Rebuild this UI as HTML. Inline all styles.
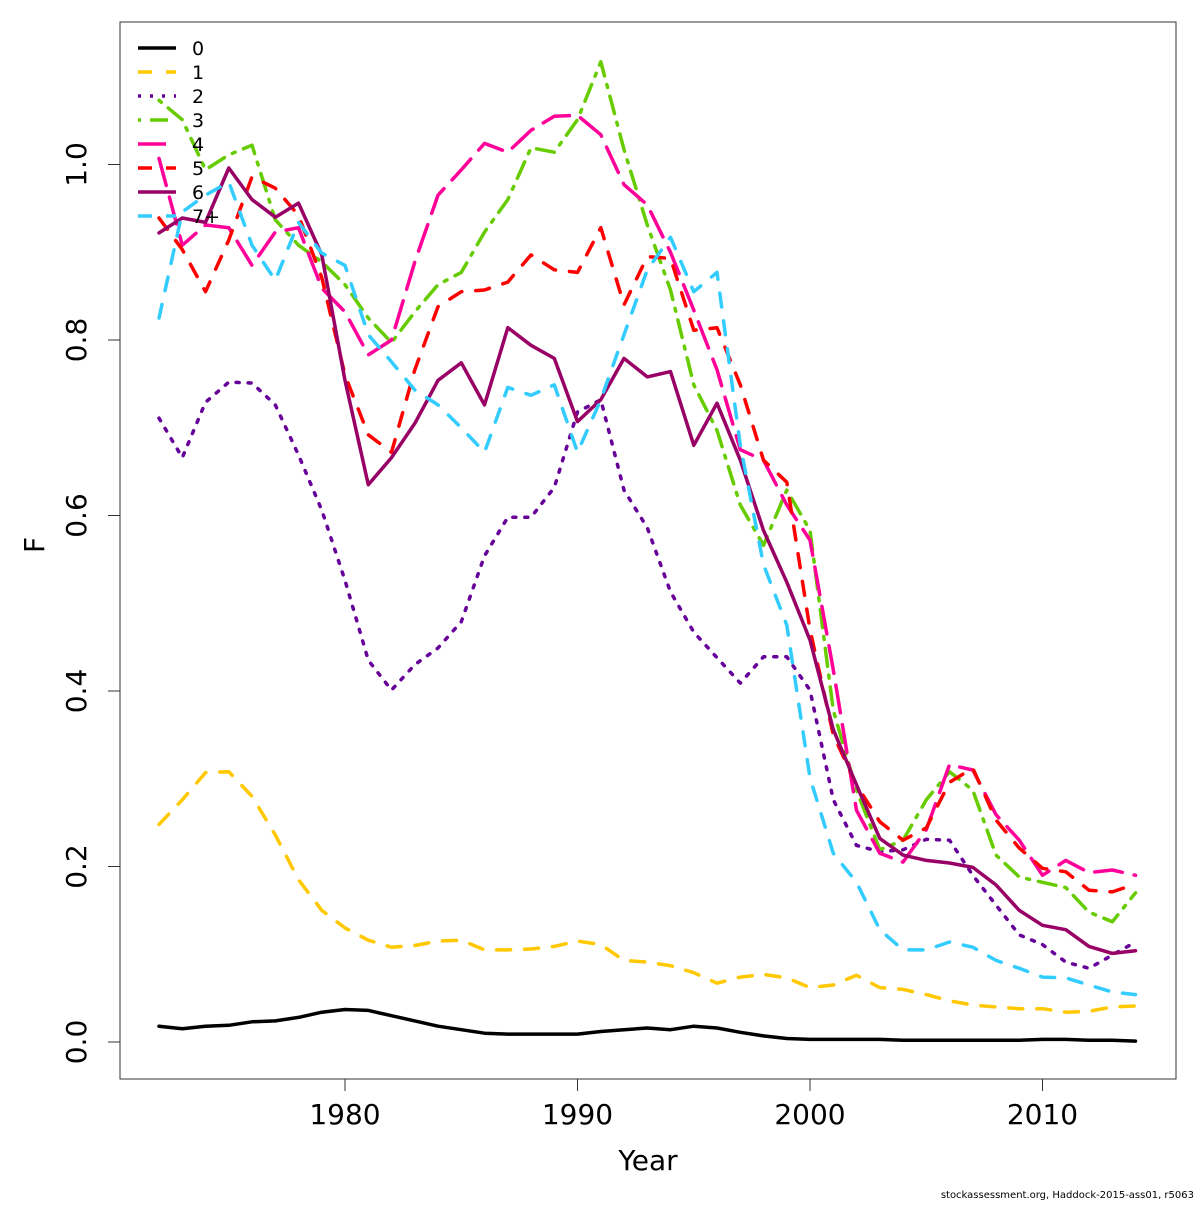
<!DOCTYPE html>
<html><head><meta charset="utf-8"><style>
body{margin:0;background:#fff;}
svg text{font-family:"DejaVu Sans","Liberation Sans",sans-serif;}
</style></head><body>
<svg id="chart" width="1200" height="1200" xmlns="http://www.w3.org/2000/svg">
<rect x="0" y="0" width="1200" height="1200" fill="#fff"/>
<rect x="120" y="22" width="1056" height="1057" fill="none" stroke="#333" stroke-width="1"/>
<g id="axes"></g>
<g id="series"></g>
<g id="legend"></g>
<text x="648" y="1170" font-size="28" text-anchor="middle">Year</text>
<text x="0" y="0" font-size="28" text-anchor="middle" transform="translate(44,545) rotate(-90)">F</text>
<text x="1194" y="1198" font-size="10" text-anchor="end">stockassessment.org, Haddock-2015-ass01, r5063</text>
</svg>
<script>
const years = [];
for (let y = 1972; y <= 2014; y++) years.push(y);
const xTicks = [1980, 1990, 2000, 2010];
const yTicks = [0, 0.2, 0.4, 0.6, 0.8, 1.0];
const yTickLabels = ["0.0", "0.2", "0.4", "0.6", "0.8", "1.0"];
const seriesNames = ["0", "1", "2", "3", "4", "5", "6", "7+"];
const f0 = [0.018,0.015,0.018,0.019,0.023,0.024,0.028,0.034,0.037,0.036,0.030,0.024,0.018,0.014,0.010,0.009,0.009,0.009,0.009,0.012,0.014,0.016,0.014,0.018,0.016,0.011,0.007,0.004,0.003,0.003,0.003,0.003,0.002,0.002,0.002,0.002,0.002,0.002,0.003,0.003,0.002,0.002,0.001];
const f1 = [0.248,0.276,0.307,0.308,0.280,0.236,0.185,0.150,0.130,0.116,0.108,0.110,0.115,0.116,0.105,0.105,0.106,0.109,0.115,0.111,0.093,0.091,0.087,0.079,0.067,0.074,0.077,0.073,0.062,0.065,0.076,0.062,0.060,0.054,0.047,0.042,0.040,0.038,0.038,0.034,0.035,0.040,0.041];
const f2 = [0.711,0.666,0.729,0.752,0.751,0.726,0.669,0.606,0.526,0.435,0.401,0.430,0.449,0.479,0.554,0.598,0.598,0.632,0.718,0.732,0.629,0.586,0.513,0.467,0.438,0.409,0.439,0.439,0.401,0.276,0.224,0.217,0.219,0.231,0.230,0.190,0.156,0.122,0.111,0.091,0.084,0.099,0.114];
const f3 = [1.073,1.051,0.994,1.011,1.022,0.937,0.908,0.889,0.863,0.825,0.797,0.832,0.863,0.877,0.923,0.960,1.019,1.014,1.051,1.117,1.017,0.931,0.857,0.749,0.697,0.612,0.566,0.629,0.583,0.378,0.287,0.219,0.230,0.276,0.308,0.287,0.213,0.188,0.182,0.176,0.148,0.137,0.170];
const f4 = [1.007,0.908,0.931,0.928,0.885,0.923,0.928,0.859,0.832,0.783,0.800,0.889,0.965,0.994,1.024,1.014,1.039,1.055,1.056,1.034,0.977,0.954,0.900,0.834,0.766,0.675,0.663,0.612,0.572,0.424,0.264,0.215,0.205,0.242,0.316,0.310,0.259,0.230,0.190,0.207,0.193,0.196,0.190];
const f5 = [0.939,0.903,0.855,0.914,0.986,0.973,0.942,0.871,0.760,0.692,0.672,0.766,0.838,0.855,0.857,0.866,0.897,0.880,0.877,0.928,0.840,0.895,0.893,0.811,0.814,0.749,0.663,0.638,0.470,0.350,0.293,0.251,0.230,0.244,0.296,0.312,0.253,0.221,0.198,0.194,0.173,0.171,0.180];
const f6 = [0.922,0.939,0.934,0.996,0.960,0.940,0.956,0.897,0.754,0.635,0.666,0.705,0.754,0.774,0.726,0.814,0.794,0.779,0.707,0.732,0.779,0.758,0.764,0.680,0.728,0.663,0.583,0.524,0.458,0.356,0.293,0.232,0.213,0.207,0.204,0.199,0.179,0.150,0.133,0.128,0.109,0.101,0.104];
const f7 = [0.825,0.946,0.965,0.980,0.908,0.868,0.934,0.899,0.885,0.806,0.775,0.743,0.726,0.700,0.672,0.746,0.737,0.749,0.672,0.732,0.806,0.880,0.917,0.855,0.877,0.680,0.544,0.475,0.301,0.215,0.182,0.128,0.105,0.105,0.114,0.108,0.093,0.084,0.074,0.073,0.065,0.057,0.054];
const allSeries = [f0,f1,f2,f3,f4,f5,f6,f7];
const colors = ["#000000","#FFC800","#660099","#66CC00","#FF0099","#FF0000","#990066","#33CCFF"];
const dashes = ["", "14,14", "3,9", "3,9,18,9", "28,12", "14,14", "", "14,14"];

const NS = "http://www.w3.org/2000/svg";
function xs(yr){ return 345 + (yr - 1980) * 23.25; }
function ys(v){ return 1042 - v * 877.5; }
function mk(tag, attrs, parent){ const e = document.createElementNS(NS, tag); for (const k in attrs) e.setAttribute(k, attrs[k]); parent.appendChild(e); return e; }

const axes = document.getElementById('axes');
xTicks.forEach(t => {
  const l = mk('line', {x1: xs(t), x2: xs(t), y1: 1079, y2: 1091, stroke: '#333'}, axes);
  
  
  const tx = mk('text', {x: xs(t), y: 1124, 'font-size': 28, 'text-anchor': 'middle'}, axes);
  tx.textContent = t;
  
  
});
yTicks.forEach((t, i) => {
  const l = mk('line', {x1: 108, x2: 120, y1: ys(t), y2: ys(t), stroke: '#333'}, axes);
  
  
  const tx = mk('text', {x: 0, y: 0, 'font-size': 28, 'text-anchor': 'middle', transform: `translate(86,${ys(t)}) rotate(-90)`}, axes);
  tx.textContent = yTickLabels[i];
  
  
});

const sg = document.getElementById('series');
allSeries.forEach((s, i) => {
  const d = s.map((v, j) => (j ? 'L' : 'M') + xs(years[j]).toFixed(1) + ',' + ys(v).toFixed(1)).join(' ');
  const p = mk('path', {d: d, fill: 'none', stroke: colors[i], 'stroke-width': 3.5, 'stroke-linejoin': 'round', 'stroke-linecap': 'round'}, sg);
  if (dashes[i]) p.setAttribute('stroke-dasharray', dashes[i]);
  
  
});

const lg = document.getElementById('legend');
seriesNames.forEach((n, i) => {
  const y = 48 + i * 24;
  const l = mk('line', {x1: 138, x2: 176, y1: y, y2: y, stroke: colors[i], 'stroke-width': 3.5}, lg);
  if (dashes[i]) l.setAttribute('stroke-dasharray', dashes[i]);
  
  
  const t = mk('text', {x: 192, y: y + 7, 'font-size': 19}, lg);
  t.textContent = n;
  
  
});
</script>
</body></html>
